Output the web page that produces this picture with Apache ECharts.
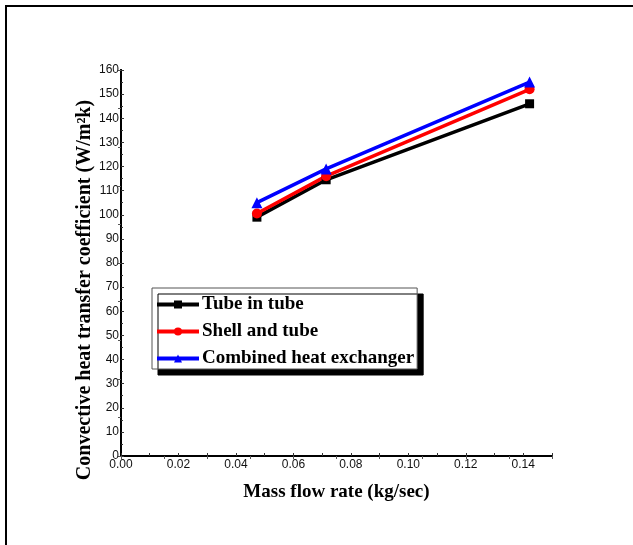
<!DOCTYPE html>
<html>
<head>
<meta charset="utf-8">
<script src="https://cdn.jsdelivr.net/npm/echarts@6/dist/echarts.min.js"></script>
<style>
  html, body { margin: 0; padding: 0; background: #fff; }
  #main { width: 633px; height: 545px; }
</style>
</head>
<body>
<div id="main"></div>
<script>
var massFlow = [0.0473, 0.0714, 0.1422];
var tubeInTube = [99, 114.5, 146];
var shellAndTube = [100.5, 116, 152];
var combined = [105, 119, 155];
var seriesNames = ['Tube in tube', 'Shell and tube', 'Combined heat exchanger'];

function pairs(xs, ys) {
    return xs.map(function (x, i) { return [x, ys[i]]; });
}

var chart = echarts.init(document.getElementById('main'));

var option = {
    animation: false,
    graphic: [{
        type: 'rect',
        shape: { x: 6, y: 6, width: 700, height: 600 },
        style: { fill: 'none', stroke: '#000', lineWidth: 2 }
    }],
    grid: { left: 121, top: 70, right: 81, bottom: 89 },
    legend: {
        orient: 'vertical',
        left: 152,
        top: 288,
        itemWidth: 42,
        itemHeight: 10,
        itemGap: 8,
        padding: [7, 3, 1, 3],
        backgroundColor: '#fff',
        borderColor: '#555',
        borderWidth: 1,
        shadowColor: '#000',
        shadowBlur: 0,
        shadowOffsetX: 6,
        shadowOffsetY: 6,
        lineStyle: { width: 4 },
        textStyle: { fontFamily: 'Liberation Serif', fontWeight: 'bold', fontSize: 19, color: '#000', padding: [0, 0, 0, -2] },
        data: seriesNames
    },
    xAxis: [{
        type: 'value',
        min: 0, max: 0.15, interval: 0.02,
        name: 'Mass flow rate (kg/sec)',
        nameLocation: 'middle',
        nameGap: 27,
        nameMoveOverlap: false,
        nameTextStyle: { fontFamily: 'Liberation Serif', fontWeight: 'bold', fontSize: 19, color: '#000' },
        axisLine: { lineStyle: { color: '#000', width: 2 } },
        axisTick: { inside: true, length: 3, lineStyle: { color: '#333' } },
        minorTick: { show: true, splitNumber: 2, length: 3, lineStyle: { color: '#333' } },
        splitLine: { show: false },
        axisLabel: {
            margin: 3,
            fontFamily: 'Liberation Sans', fontSize: 12, color: '#111',
            formatter: function (v) { return v.toFixed(2); },
            showMaxLabel: false
        }
    }, {
        type: 'value', position: 'top',
        min: 0, max: 0.15, interval: 0.015,
        axisLine: { lineStyle: { color: '#000', width: 2 } },
        axisTick: { inside: true, length: 3, lineStyle: { color: '#555' } },
        axisLabel: { show: false },
        splitLine: { show: false }
    }],
    yAxis: [{
        type: 'value',
        min: 0, max: 160, interval: 10,
        name: 'Convective heat transfer coefficient (W/m²k)',
        nameLocation: 'middle',
        nameGap: 26,
        nameMoveOverlap: false,
        nameTextStyle: { fontFamily: 'Liberation Serif', fontWeight: 'bold', fontSize: 20, color: '#000', padding: [0, 54, 0, 0] },
        axisLine: { show: true, lineStyle: { color: '#000', width: 2 } },
        axisTick: { show: true, inside: true, length: 3, lineStyle: { color: '#333' } },
        minorTick: { show: true, splitNumber: 2, length: 2, lineStyle: { color: '#333' } },
        splitLine: { show: false },
        axisLabel: { margin: 2, fontFamily: 'Liberation Sans', fontSize: 12, color: '#111' }
    }, {
        type: 'value', position: 'right',
        min: 0, max: 160, interval: 16,
        axisLine: { show: true, lineStyle: { color: '#000', width: 2 } },
        axisTick: { show: true, inside: true, length: 3, lineStyle: { color: '#555' } },
        axisLabel: { show: false },
        splitLine: { show: false }
    }],
    series: [{
        name: seriesNames[0],
        type: 'line',
        data: pairs(massFlow, tubeInTube),
        symbol: 'rect', symbolSize: 9,
        lineStyle: { color: '#000', width: 3.5 },
        itemStyle: { color: '#000' }
    }, {
        name: seriesNames[1],
        type: 'line',
        data: pairs(massFlow, shellAndTube),
        symbol: 'circle', symbolSize: 10,
        lineStyle: { color: '#ff0000', width: 3.5 },
        itemStyle: { color: '#ff0000' }
    }, {
        name: seriesNames[2],
        type: 'line',
        data: pairs(massFlow, combined),
        symbol: 'triangle', symbolSize: 11,
        lineStyle: { color: '#0000ff', width: 3.5 },
        itemStyle: { color: '#0000ff' }
    }]
};

chart.setOption(option);
</script>
</body>
</html>
